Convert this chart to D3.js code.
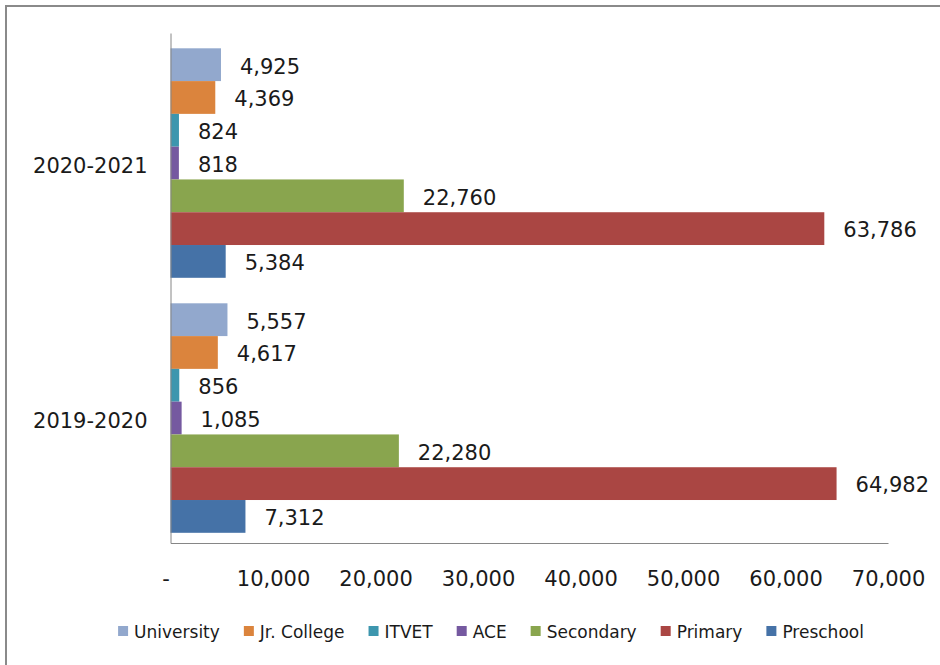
<!DOCTYPE html>
<html>
<head>
<meta charset="utf-8">
<script src="https://cdn.jsdelivr.net/npm/d3@7"></script>
<style>
  body { margin: 0; background: #fff; }
  text { font-family: "DejaVu Sans", sans-serif; fill: #1a1a1a; }
</style>
</head>
<body>
<div id="chart"></div>
<script>
// years, top group first
var years = ["2020-2021", "2019-2020"];
// series, in top-to-bottom order inside each group
var levels = ["University", "Jr. College", "ITVET", "ACE", "Secondary", "Primary", "Preschool"];
var colors = ["#92A8CD", "#DB843D", "#3D96AE", "#7559A0", "#89A54E", "#AA4643", "#4572A7"];
var values2021 = [4925, 4369, 824, 818, 22760, 63786, 5384];
var values2020 = [5557, 4617, 856, 1085, 22280, 64982, 7312];
var xTicks = [0, 10000, 20000, 30000, 40000, 50000, 60000, 70000];

var width = 940,
    height = 665;

var svg = d3.select("#chart").append("svg")
    .attr("width", width)
    .attr("height", height);

svg.append("rect")
    .attr("width", width).attr("height", height)
    .attr("fill", "#fff");

// outer frame, right/bottom sides fall off the picture
svg.append("rect")
    .attr("x", 6).attr("y", 6)
    .attr("width", 1200).attr("height", 1200)
    .attr("fill", "none")
    .attr("stroke", "#8a8a8a")
    .attr("stroke-width", 2);

var rows = [];
years.forEach(function(y, i) {
    var vals = i === 0 ? values2021 : values2020;
    levels.forEach(function(l, j) {
        rows.push({ year: y, level: l, value: vals[j], color: colors[j] });
    });
});

var x = d3.scaleLinear()
    .domain([0, 70000])
    .range([170.5, 888]);

var y0 = d3.scaleBand()
    .domain(years)
    .range([33, 543])
    .paddingInner(0.1)
    .paddingOuter(0.05)
    .align(0.6);

var y1 = d3.scaleBand()
    .domain(levels)
    .range([0, y0.bandwidth()]);

var fmt = d3.format(",");

// bars
svg.append("g")
    .selectAll("rect")
    .data(rows)
    .enter().append("rect")
    .attr("x", x(0))
    .attr("y", function(d) { return y0(d.year) + y1(d.level); })
    .attr("width", function(d) { return x(d.value) - x(0); })
    .attr("height", y1.bandwidth())
    .attr("fill", function(d) { return d.color; });

// value labels
svg.append("g")
    .selectAll("text")
    .data(rows)
    .enter().append("text")
    .attr("x", function(d) { return x(d.value) + 19; })
    .attr("y", function(d) { return y0(d.year) + y1(d.level) + y1.bandwidth() / 2; })
    .attr("dy", "0.42em")
    .style("font-size", "21px")
    .text(function(d) { return fmt(d.value); });

// x axis
var xAxis = svg.append("g")
    .attr("transform", "translate(0,543)")
    .call(d3.axisBottom(x)
        .tickValues(xTicks)
        .tickSize(0)
        .tickPadding(28)
        .tickFormat(function(d) { return d === 0 ? "-" : fmt(d); }));
xAxis.select(".domain").attr("stroke", "#868686");
xAxis.selectAll("text")
    .style("font-size", "21px")
    .attr("fill", "#1a1a1a")
    .attr("dx", function(d) { return d === 0 ? -5 : 0; });

// y axis
var yAxis = svg.append("g")
    .attr("transform", "translate(170.5,0)")
    .call(d3.axisLeft(y0).tickSize(0).tickPadding(23));
yAxis.select(".domain").attr("stroke", "#868686");
yAxis.selectAll("text")
    .style("font-size", "21px")
    .attr("fill", "#1a1a1a")
    .attr("dy", "0.45em");

// legend, measured then centred
var legend = svg.append("g");
var items = legend.selectAll("g")
    .data(levels)
    .enter().append("g");
items.append("rect")
    .attr("y", 626)
    .attr("width", 10).attr("height", 10)
    .attr("fill", function(d, i) { return colors[i]; });
items.append("text")
    .attr("x", 16)
    .attr("y", 638)
    .style("font-size", "17px")
    .text(function(d) { return d; });

var pos = 0;
items.each(function() {
    var g = d3.select(this);
    g.attr("transform", "translate(" + pos + ",0)");
    pos += 16 + g.select("text").node().getComputedTextLength() + 24;
});
var total = pos - 24;
legend.attr("transform", "translate(" + (491 - total / 2) + ",0)");
</script>
</body>
</html>
